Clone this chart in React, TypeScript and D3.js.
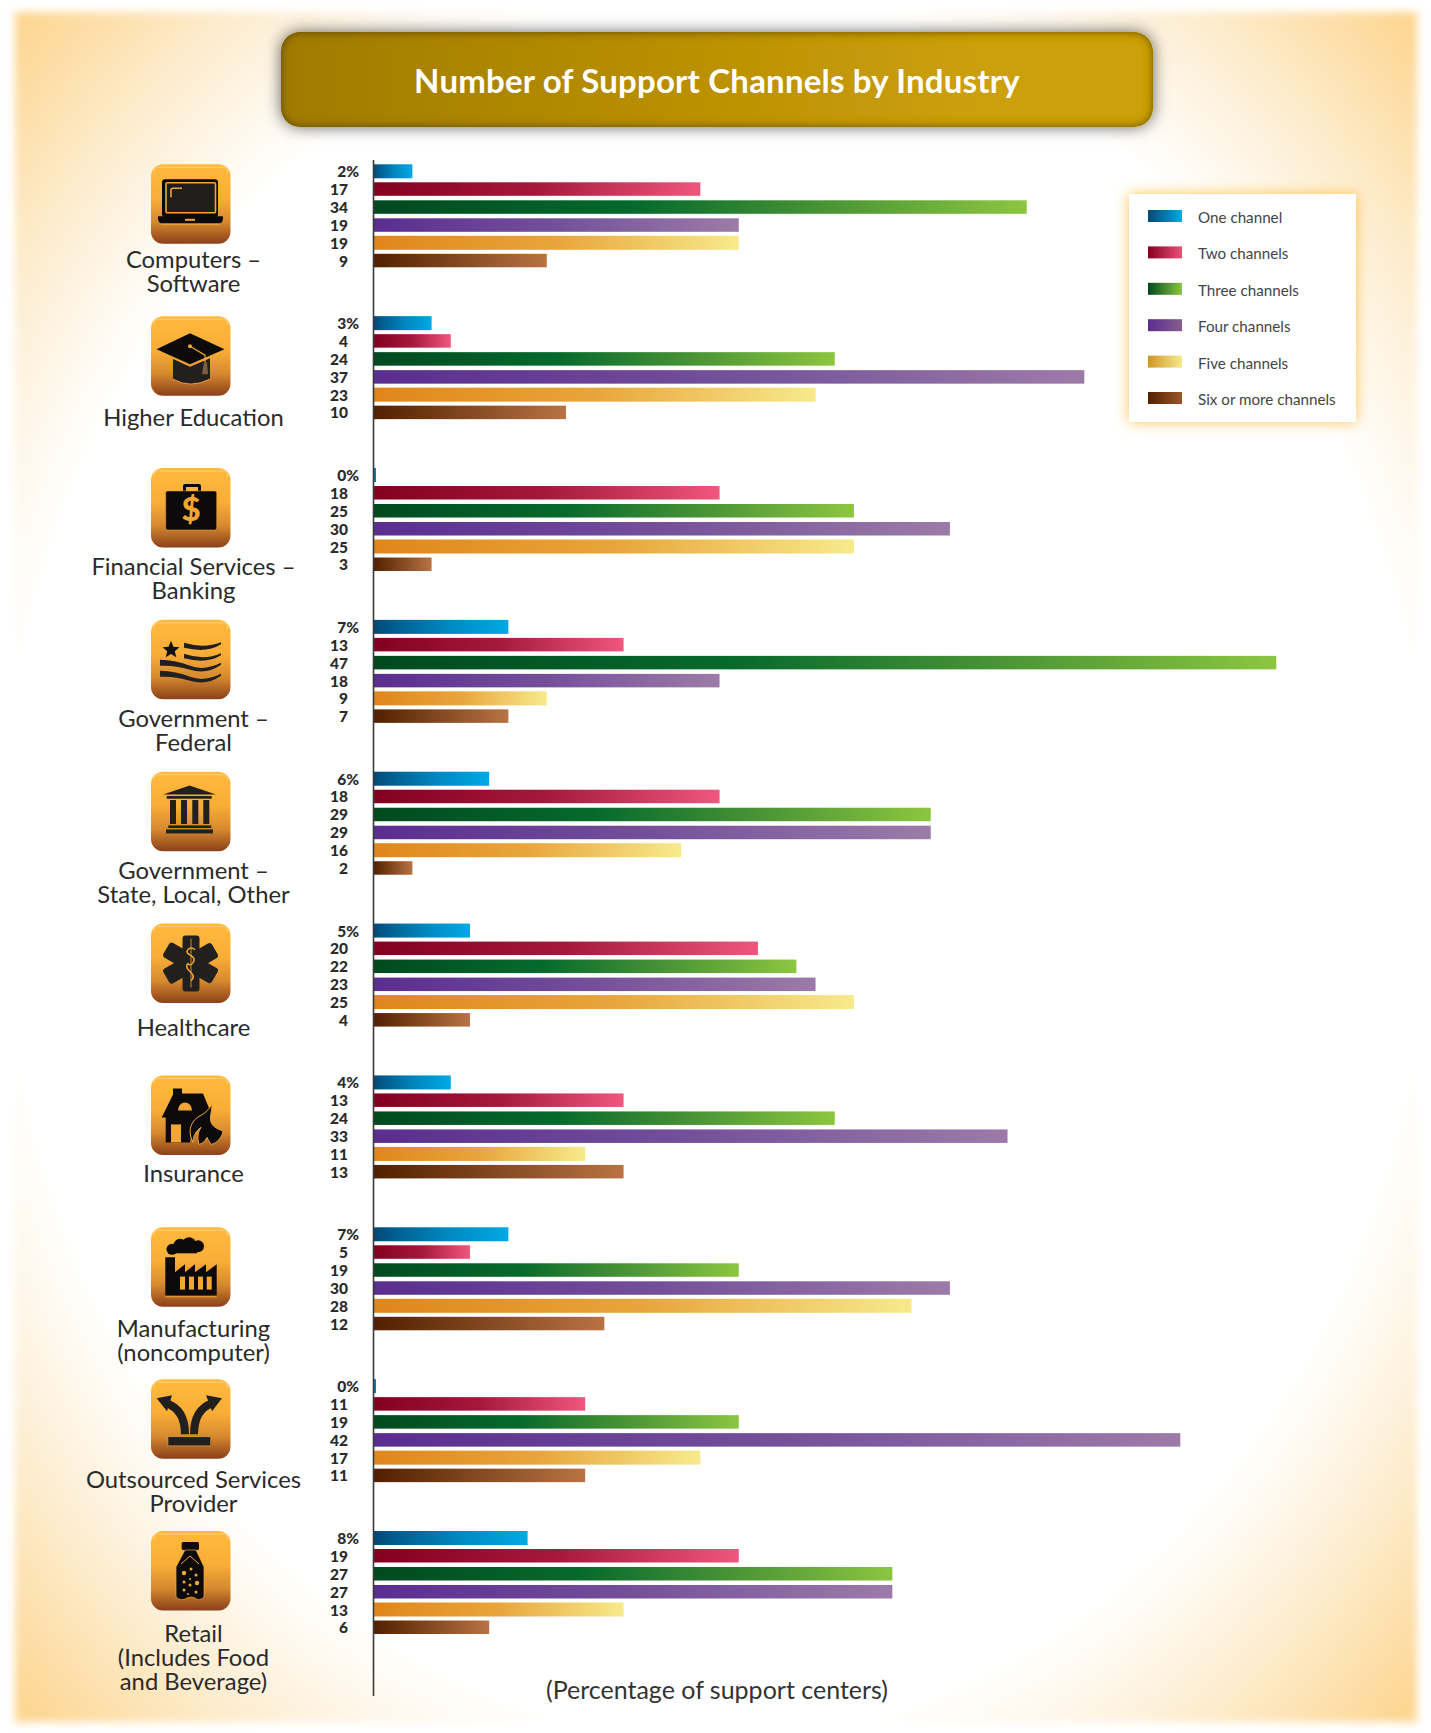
import React from 'react';
import * as d3 from 'd3';

const categories = [
  ['Computers –', 'Software'],
  ['Higher Education'],
  ['Financial Services –', 'Banking'],
  ['Government –', 'Federal'],
  ['Government –', 'State, Local, Other'],
  ['Healthcare'],
  ['Insurance'],
  ['Manufacturing', '(noncomputer)'],
  ['Outsourced Services', 'Provider'],
  ['Retail', '(Includes Food', 'and Beverage)'],
];
const seriesNames = ['One channel', 'Two channels', 'Three channels', 'Four channels', 'Five channels', 'Six or more channels'];
const oneChannel = [2, 3, 0, 7, 6, 5, 4, 7, 0, 8];
const twoChannels = [17, 4, 18, 13, 18, 20, 13, 5, 11, 19];
const threeChannels = [34, 24, 25, 47, 29, 22, 24, 19, 19, 27];
const fourChannels = [19, 37, 30, 18, 29, 23, 33, 30, 42, 27];
const fiveChannels = [19, 23, 25, 9, 16, 25, 11, 28, 17, 13];
// Bar lengths as drawn in the picture: the Healthcare bar reaches 5 although it is printed "4".
const sixChannels = [9, 10, 3, 7, 2, 5, 13, 12, 11, 6];
const sixPrinted = [9, 10, 3, 7, 2, 4, 13, 12, 11, 6];
const iconNames = ['laptop', 'cap', 'case', 'flag', 'temple', 'star', 'house', 'factory', 'arrows', 'bottle'];

const seriesValues = [oneChannel, twoChannels, threeChannels, fourChannels, fiveChannels, sixChannels];
const printedValues = [oneChannel, twoChannels, threeChannels, fourChannels, fiveChannels, sixPrinted];

const barStops: [number, string][][] = [
  [[0, '#004873'], [0.12, '#005a8a'], [0.55, '#0088c0'], [1, '#00a9e5']],
  [[0, '#84001f'], [0.5, '#a5183c'], [1, '#f0567e']],
  [[0, '#00491f'], [0.4, '#066a2c'], [0.7, '#4b9536'], [1, '#8cc640']],
  [[0, '#5a2d90'], [0.5, '#74509a'], [1, '#9c7ba8']],
  [[0, '#e0861a'], [0.5, '#e8a53b'], [1, '#f7ea8c']],
  [[0, '#522000'], [0.5, '#844a22'], [1, '#b97344']],
];
const legendStops: [string, string][] = [
  ['#004873', '#00a9e5'],
  ['#84001f', '#ec5079'],
  ['#00491f', '#8cc640'],
  ['#5a2d90', '#84608e'],
  ['#cf9628', '#f7ea8c'],
  ['#522000', '#9a5628'],
];

const W = 1431;
const H = 1733;
const x = d3.scaleLinear().domain([0, 47]).range([374, 1276.3]);
const groupY = d3.scaleLinear().domain([0, 9]).range([164.3, 1531]);
const barOffset = [0, 18, 36, 54, 71.5, 89.5];
const barH = [14, 13.5, 13.5, 13.5, 14, 13.5];
const labelFirstBase = [104, 110, 107, 107, 107, 112, 107, 110, 109, 111];
const legendY = d3.scaleLinear().domain([0, 5]).range([210, 392]);
const iconSize = 79.5;
const FONT = 'Lato, "Noto Sans", sans-serif';
const INK = '#2a2a2a';
const OR = '#f3a636';
const BK = '#0c0a0a';

function Icon({ name }: { name: string }) {
  switch (name) {
    case 'laptop':
      return (
        <g>
          <rect x={11} y={15} width={56} height={38} rx={3} fill={BK} />
          <rect x={15} y={18.5} width={49.5} height={30} rx={1} fill="#201e1d" stroke={OR} strokeWidth={1.6} />
          <path d="M20 33V26q0-2 2-2h9" fill="none" stroke={OR} strokeWidth={1.6} />
          <path d="M7 52h65v2q0 5-4 5H11q-4 0-4-5z" fill={BK} />
          <path d="M10 60H69" stroke={OR} strokeWidth={1} />
          <rect x={34} y={54.5} width={10} height={2} fill={OR} />
        </g>
      );
    case 'cap':
      return (
        <g>
          <path d="M22 42V63q17 10 37 0V42L39 50z" fill="#231f1f" />
          <path d="M22 63q17 10 37 0" fill="none" stroke={OR} strokeWidth={1} />
          <path d="M39 17L73.5 33 39 48 5.5 33z" fill={BK} />
          <path d="M22 42L39 50 57 42" fill="none" stroke={OR} strokeWidth={1.2} />
          <path d="M39 30L54 39V46" fill="none" stroke={OR} strokeWidth={1.2} />
          <circle cx={39} cy={30} r={2} fill={OR} />
          <path d="M53 46L56 46 57 58H51z" fill="#7a6040" />
        </g>
      );
    case 'case':
      return (
        <g>
          <path d="M32 23v-5q0-2 2-2h14q2 0 2 2v5h-3v-4H35v4z" fill={BK} />
          <rect x={14.7} y={23} width={51} height={39} rx={2} fill={BK} stroke={OR} strokeWidth={0.5} />
          <text x={40} y={53} textAnchor="middle" fontFamily={FONT} fontWeight={900} fontSize={33} fill={OR}>$</text>
        </g>
      );
    case 'flag':
      return (
        <g fill="#221f1f">
          <path d="M20 21l2.4 5.8 6.1.5-4.7 4 1.5 6-5.3-3.2-5.3 3.2 1.5-6-4.700-4 6.100-.5z" fill="#111" />
          <path d="M33 23q20 6 37-.5v2q-14 9-37 3.500z" />
          <path d="M33 34q20 7 37-.5v2q-14 9-37 3z" />
          <path d="M9 40q16 .5 30 6t31-3v2q-14 10-31 5T9 46z" />
          <path d="M9 51q16 .5 30 6t31-3v2q-14 10-31 5T9 57z" />
        </g>
      );
    case 'temple':
      return (
        <g fill="#221f1f">
          <path d="M38.500 13.700L65 22.700H12.300z" />
          <rect x={15.7} y={24.3} width={45} height={2.7} />
          <rect x={19} y={28.3} width={6} height={24} />
          <rect x={30} y={28.3} width={6} height={24} />
          <rect x={41.3} y={28.3} width={6} height={24} />
          <rect x={52.3} y={28.3} width={6} height={24} />
          <rect x={17.3} y={53.7} width={43} height={2.6} />
          <rect x={15} y={57.7} width={47} height={4} />
        </g>
      );
    case 'star':
      return (
        <g>
          <g fill="#221f1f">
            {[0, 60, 120].map(a => (
              <rect key={a} x={31.5} y={12} width={17} height={56} rx={3} transform={`rotate(${a} 40 39.500)`} />
            ))}
          </g>
          <path d="M40 15V64" stroke={OR} strokeWidth={0.8} />
          <path d="M44 26q-4-3-7 0t3 6q5 3 2 7t-5 1q-3 3 1 7t4 5q1 3-2 5" fill="none" stroke={OR} strokeWidth={1.5} />
        </g>
      );
    case 'house':
      return (
        <g>
          <path d="M22 19V13h9v5h21l7 17-17 11-3 21H14.700V42H10.700l2-4z" fill={BK} />
          <path d="M27 35a7 8 0 0 1 14 0z" fill={OR} />
          <rect x={20} y={49} width={10} height={18} fill={OR} />
          <path d="M42 67C36 55 40 46 48 41 54 38 58 34 61 29 61 38 57 44 62 50 66 54 70 54 72 56 71 62 66 68 60 69 58 66 57 64 56 62 54 66 52 68 48 69 46 62 47 56 50 52 44 56 42 62 42 67z" fill={BK} stroke={OR} strokeWidth={1} />
        </g>
      );
    case 'factory':
      return (
        <g fill={BK}>
          <circle cx={21} cy={22} r={5.500} />
          <circle cx={29} cy={18} r={6.500} />
          <circle cx={38} cy={17} r={7} />
          <circle cx={47} cy={19} r={6} />
          <rect x={20} y={17} width={26} height={9} />
          <path d="M14.300 30H24V45L34 37V45L44 37V45L55 37V45L65.700 37V68.300H14.300z" />
          <rect x={29} y={49.300} width={5} height={13} fill={OR} />
          <rect x={38} y={49.300} width={5} height={13} fill={OR} />
          <rect x={47} y={49.300} width={5} height={13} fill={OR} />
          <rect x={55.700} y={49.300} width={5} height={13} fill={OR} />
          <path d="M14.300 69.500H65.700" stroke={OR} strokeWidth={1} />
        </g>
      );
    case 'arrows':
      return (
        <g>
          <rect x={17} y={57.700} width={42.700} height={9} fill="#221f1f" stroke={OR} strokeWidth={0.5} />
          <path d="M34 55C34 38 27 28 15 24" fill="none" stroke="#221f1f" strokeWidth={8} />
          <path d="M43 55C43 38 50 28 61 24" fill="none" stroke="#221f1f" strokeWidth={8} />
          <path d="M5.700 19L21 16 16 32z" fill="#221f1f" />
          <path d="M71 19L55 16 61 32z" fill="#221f1f" />
        </g>
      );
    default:
      return (
        <g>
          <rect x={30.700} y={11} width={17.300} height={8} rx={1.500} fill={BK} />
          <path d="M34 19H45L53 36V66q-5 5-9 1-4-2-8 0-6 4-11-1V36z" fill={BK} stroke={OR} strokeWidth={0.7} />
          <path d="M30 33L39 25 48 33" fill="none" stroke={OR} strokeWidth={1} />
          <g fill={OR}>
            <circle cx={33} cy={42} r={2.200} />
            <circle cx={45} cy={44} r={1.500} />
            <circle cx={40} cy={38} r={1.500} />
            <circle cx={33} cy={51} r={1.500} />
            <circle cx={39} cy={48} r={1} />
            <circle cx={46} cy={52} r={2.200} />
            <circle cx={39} cy={54} r={1.500} />
            <circle cx={33} cy={59} r={1.500} />
            <circle cx={45} cy={61} r={1.500} />
            <circle cx={37} cy={63} r={1} />
          </g>
        </g>
      );
  }
}

export default function App() {
  return (
    <svg width={W} height={H} viewBox={`0 0 ${W} ${H}`} style={{ position: 'absolute', left: 0, top: 0, background: '#fff' }}>
      <defs>
        <radialGradient id="bg" cx="0.5" cy="0.5" r="0.707">
          <stop offset="0.72" stopColor="#ffffff" />
          <stop offset="0.83" stopColor="#fdf0d8" />
          <stop offset="1" stopColor="#fdd48c" />
        </radialGradient>
        <filter id="soft" x="-2%" y="-2%" width="104%" height="104%">
          <feGaussianBlur stdDeviation="4.5" />
        </filter>
        <linearGradient id="titleFill" x1="0" x2="1" y1="0" y2="0">
          <stop offset="0" stopColor="#a07b02" />
          <stop offset="0.8" stopColor="#cc9f08" />
          <stop offset="1" stopColor="#cc9f08" />
        </linearGradient>
        <linearGradient id="iconFill" x1="0" x2="0" y1="0" y2="1">
          <stop offset="0" stopColor="#ffb93c" />
          <stop offset="0.42" stopColor="#f9ae37" />
          <stop offset="0.72" stopColor="#d68a30" />
          <stop offset="1" stopColor="#8c401a" />
        </linearGradient>
        <filter id="titleFx" x="-5%" y="-40%" width="110%" height="180%">
          <feGaussianBlur in="SourceAlpha" stdDeviation="8" result="ob" />
          <feFlood floodColor="#000" floodOpacity="0.6" />
          <feComposite in2="ob" operator="in" result="drop" />
          <feGaussianBlur in="SourceAlpha" stdDeviation="5" result="b" />
          <feComposite in="SourceAlpha" in2="b" operator="arithmetic" k1="0" k2="1" k3="-1" k4="0" result="edge" />
          <feFlood floodColor="#3c2c00" floodOpacity="1" />
          <feComposite in2="edge" operator="in" result="inner" />
          <feMerge>
            <feMergeNode in="drop" />
            <feMergeNode in="SourceGraphic" />
            <feMergeNode in="inner" />
          </feMerge>
        </filter>
        <filter id="legendGlow" x="-15%" y="-15%" width="130%" height="130%">
          <feGaussianBlur in="SourceAlpha" stdDeviation="7" result="b" />
          <feFlood floodColor="#fdc24f" floodOpacity="1" />
          <feComposite in2="b" operator="in" result="glow" />
          <feMerge>
            <feMergeNode in="glow" />
            <feMergeNode in="SourceGraphic" />
          </feMerge>
        </filter>
        {barStops.map((stops, i) => (
          <linearGradient key={i} id={`bar${i}`} x1="0" x2="1" y1="0" y2="0">
            {stops.map(([o, c]) => <stop key={o} offset={o} stopColor={c} />)}
          </linearGradient>
        ))}
        {legendStops.map(([a, b], i) => (
          <linearGradient key={i} id={`leg${i}`} x1="0" x2="1" y1="0" y2="0">
            <stop offset="0" stopColor={a} />
            <stop offset="1" stopColor={b} />
          </linearGradient>
        ))}
      </defs>

      <rect x={15} y={12} width={1402} height={1710} fill="url(#bg)" filter="url(#soft)" />

      <rect x={281} y={32} width={872} height={95} rx={19} fill="url(#titleFill)" filter="url(#titleFx)" />
      <text x={717} y={93} textAnchor="middle" fontFamily={FONT} fontWeight={700} fontSize={33} letterSpacing={0.2} fill="#fff">
        Number of Support Channels by Industry
      </text>

      {categories.map((lines, g) => {
        const top = groupY(g);
        return (
          <g key={g}>
            <g transform={`translate(151,${top})`}>
              <rect width={iconSize} height={iconSize} rx={12} fill="url(#iconFill)" />
              <path d="M3 9V8q0-5 5-5h63.500q5 0 5 5v1" fill="none" stroke="#ffd27a" strokeWidth={1} />
              <Icon name={iconNames[g]} />
            </g>
            {lines.map((t, i) => (
              <text key={i} x={193.5} y={top + labelFirstBase[g] + i * 24} textAnchor="middle" fontFamily={FONT} fontSize={23.8} fill={INK}>
                {t}
              </text>
            ))}
            {seriesValues.map((vals, s) => {
              const by = top + barOffset[s];
              const v = vals[g];
              const printed = printedValues[s][g];
              return (
                <g key={s}>
                  <rect x={x(0) - 0.5} y={by} width={Math.max(x(v) - x(0) + 0.5, 2.5)} height={barH[s]} fill={v === 0 ? '#0a7fb0' : `url(#bar${s})`} />
                  <text x={s === 0 ? 359 : 348} y={by + barH[s] / 2 + 6} textAnchor="end" fontFamily={FONT} fontWeight={900} fontSize={15.5} fill={INK}>
                    {printed}{s === 0 ? '%' : ''}
                  </text>
                </g>
              );
            })}
          </g>
        );
      })}

      <line x1={373.5} x2={373.5} y1={160} y2={1696} stroke="#3a3a3a" strokeWidth={1.6} />

      <text x={717} y={1699} textAnchor="middle" fontFamily={FONT} fontSize={25} fill="#333">
        (Percentage of support centers)
      </text>

      <rect x={1129} y={194} width={227} height={228} fill="#fff" filter="url(#legendGlow)" />
      {seriesNames.map((name, i) => (
        <g key={name}>
          <rect x={1148} y={legendY(i)} width={34} height={12} fill={`url(#leg${i})`} />
          <text x={1198} y={legendY(i) + 13} fontFamily={FONT} fontWeight={400} fontSize={15.2} fill="#444">
            {name}
          </text>
        </g>
      ))}
    </svg>
  );
}
